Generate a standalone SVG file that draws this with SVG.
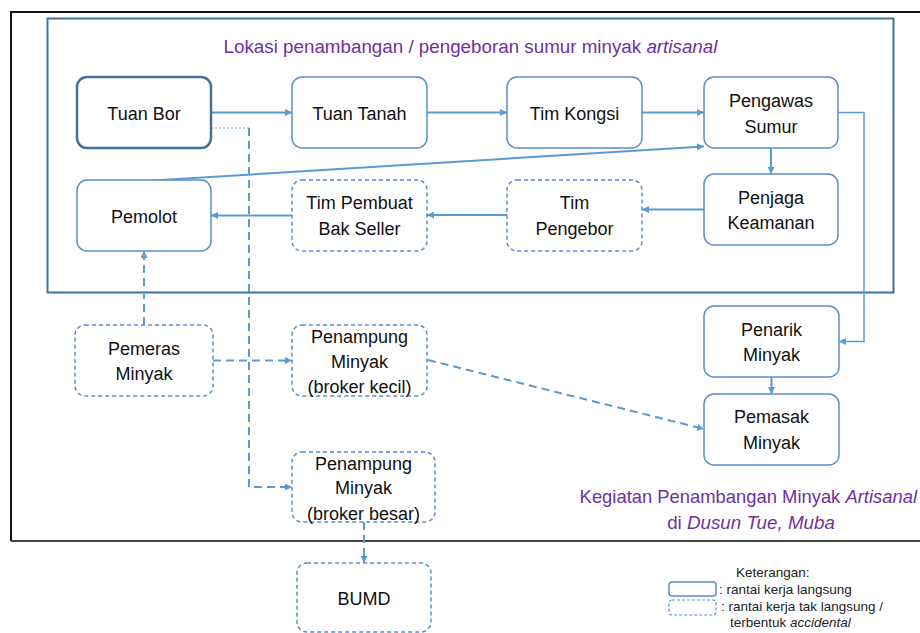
<svg xmlns="http://www.w3.org/2000/svg" width="920" height="633" viewBox="0 0 920 633">
<style>
.bg{fill:#fff}
.n rect{fill:#fff;stroke:#5b8fc9;stroke-width:1.5}
.n.d rect{stroke-dasharray:4 3}
.n.b rect{stroke:#41719c;stroke-width:2.5}
.n text{font-family:"Liberation Sans",Arial,sans-serif;font-size:18px;fill:#111;text-anchor:middle}
.c path{fill:none;stroke:#5b9bd5;stroke-width:2}
.c .ds{stroke-dasharray:8 5}
.c .th{stroke-width:1.5}
.c .dot{stroke:#9cc3e6;stroke-width:1.5;stroke-dasharray:2 2}
.t{font-family:"Liberation Sans",Arial,sans-serif;fill:#7030a0}
.lg{font-family:"Liberation Sans",Arial,sans-serif;font-size:13.5px;fill:#222}
</style>
<defs>
<marker id="a" viewBox="0 0 10 10" refX="10" refY="5" markerWidth="7" markerHeight="7" orient="auto" markerUnits="userSpaceOnUse"><path d="M0,0 L10,5 L0,10 z" fill="#5b9bd5"/></marker>
</defs>
<rect class="bg" width="920" height="633"/>
<path d="M11,541 V12 H920" fill="none" stroke="#111" stroke-width="2"/>
<path d="M11,541 H920" fill="none" stroke="#444" stroke-width="2"/>
<rect x="47.5" y="18.5" width="846" height="274" fill="none" stroke="#41719c" stroke-width="2"/>
<text class="t" x="470.5" y="53" font-size="18.8" text-anchor="middle">Lokasi penambangan / pengeboran sumur minyak <tspan font-style="italic">artisanal</tspan></text>
<text class="t" x="917" y="503" font-size="18.4" text-anchor="end">Kegiatan Penambangan Minyak <tspan font-style="italic">Artisanal</tspan></text>
<text class="t" x="751" y="529" font-size="18.8" text-anchor="middle">di <tspan font-style="italic">Dusun Tue, Muba</tspan></text>

<g id="connectors" class="c">
<path d="M211,112.5 H292" marker-end="url(#a)"/>
<path d="M427,112.5 H507" marker-end="url(#a)"/>
<path d="M642,112.5 H704" marker-end="url(#a)"/>
<path d="M771,148 V174" marker-end="url(#a)"/>
<path d="M704,209.5 H642" marker-end="url(#a)"/>
<path d="M507,215 H427" marker-end="url(#a)"/>
<path d="M292,215.5 H211" marker-end="url(#a)"/>
<path d="M145,181 L704,146.5" marker-end="url(#a)"/>
<path class="th" d="M838,112.5 H864 V341.5 H839" marker-end="url(#a)"/>
<path d="M771.5,377 V394" marker-end="url(#a)"/>
<path class="dot" d="M211,128 H249"/>
<path class="ds" d="M249,128 V487 H292" marker-end="url(#a)"/>
<path class="ds" d="M144,325 V251" marker-end="url(#a)"/>
<path class="ds" d="M213,360.5 H292" marker-end="url(#a)"/>
<path class="ds" d="M428,360 L704,429" marker-end="url(#a)"/>
<path class="ds" d="M364,522 V563" marker-end="url(#a)"/>
</g>

<g id="tuan-bor" class="n b"><rect x="77" y="77" width="134" height="71" rx="10"/><text x="144" y="120">Tuan Bor</text></g>
<g id="tuan-tanah" class="n"><rect x="292" y="77" width="135" height="71" rx="10"/><text x="359.5" y="120">Tuan Tanah</text></g>
<g id="tim-kongsi" class="n"><rect x="507" y="77" width="135" height="71" rx="10"/><text x="574.5" y="120">Tim Kongsi</text></g>
<g id="pengawas-sumur" class="n"><rect x="704" y="77" width="134" height="71" rx="10"/><text x="771" y="107">Pengawas</text><text x="771" y="133">Sumur</text></g>
<g id="penjaga-keamanan" class="n"><rect x="704" y="174" width="134" height="71" rx="10"/><text x="771" y="204">Penjaga</text><text x="771" y="229">Keamanan</text></g>
<g id="tim-pengebor" class="n d"><rect x="507" y="180" width="135" height="71" rx="10"/><text x="574.5" y="209">Tim</text><text x="574.5" y="235">Pengebor</text></g>
<g id="tim-pembuat" class="n d"><rect x="292" y="180" width="135" height="71" rx="10"/><text x="359.5" y="209">Tim Pembuat</text><text x="359.5" y="235">Bak Seller</text></g>
<g id="pemolot" class="n"><rect x="77" y="180" width="134" height="71" rx="10"/><text x="144" y="223">Pemolot</text></g>
<g id="pemeras-minyak" class="n d"><rect x="75" y="325" width="138" height="71" rx="10"/><text x="144" y="355">Pemeras</text><text x="144" y="380">Minyak</text></g>
<g id="broker-kecil" class="n d"><rect x="292" y="325" width="135" height="71" rx="10"/><text x="359.5" y="343">Penampung</text><text x="359.5" y="368">Minyak</text><text x="359.5" y="393">(broker kecil)</text></g>
<g id="broker-besar" class="n d"><rect x="292" y="452" width="143" height="70" rx="10"/><text x="363.5" y="470">Penampung</text><text x="363.5" y="494">Minyak</text><text x="363.5" y="520">(broker besar)</text></g>
<g id="bumd" class="n d"><rect x="297" y="563" width="134" height="69" rx="10"/><text x="364" y="605">BUMD</text></g>
<g id="penarik-minyak" class="n"><rect x="704" y="306" width="135" height="71" rx="10"/><text x="771.5" y="336">Penarik</text><text x="771.5" y="361">Minyak</text></g>
<g id="pemasak-minyak" class="n"><rect x="704" y="394" width="135" height="71" rx="10"/><text x="771.5" y="423">Pemasak</text><text x="771.5" y="449">Minyak</text></g>

<g id="legend">
<text class="lg" x="736" y="577">Keterangan:</text>
<rect x="669" y="582" width="47" height="14" rx="3" fill="#fff" stroke="#5b8fc9" stroke-width="1.5"/>
<text class="lg" x="719" y="594">: rantai kerja langsung</text>
<rect x="669" y="600" width="47" height="15" rx="3" fill="#fff" stroke="#5b8fc9" stroke-width="1.2" stroke-dasharray="3 2"/>
<text class="lg" x="721" y="611">: rantai kerja tak langsung /</text>
<text class="lg" x="730" y="627">terbentuk <tspan font-style="italic">accidental</tspan></text>
</g>
</svg>
